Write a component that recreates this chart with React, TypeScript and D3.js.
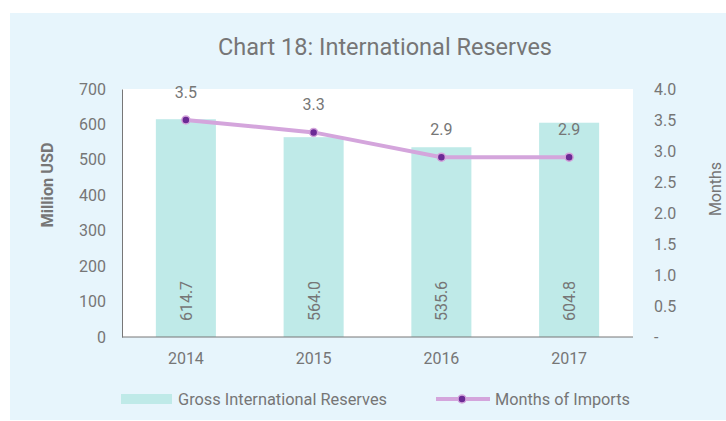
import React, { useRef, useEffect } from "react";
import * as d3 from "d3";

const years = ["2014", "2015", "2016", "2017"];
const reserves = [614.7, 564.0, 535.6, 604.8];
const months = [3.5, 3.3, 2.9, 2.9];
const leftTicks = [0, 100, 200, 300, 400, 500, 600, 700];
const rightTicks = [0, 0.5, 1, 1.5, 2, 2.5, 3, 3.5, 4];

const GREY = "#767676";
const BAR = "#bfeae8";
const LINE = "#d4a5dc";
const DOT = "#6b2a95";

export default function App() {
  const ref = useRef<SVGSVGElement | null>(null);

  useEffect(() => {
    const svg = d3.select(ref.current);
    svg.selectAll("*").remove();
    const font = "Roboto, 'Noto Sans', sans-serif";

    // background panel
    svg.append("rect").attr("x", 10).attr("y", 13).attr("width", 716).attr("height", 407).attr("fill", "#e7f5fc");

    const left = 122, right = 633, top = 89, bottom = 337;
    svg.append("rect").attr("x", left).attr("y", top).attr("width", right - left).attr("height", bottom - top).attr("fill", "#fff");

    const x = d3.scaleBand().domain(years).range([left, right]).paddingInner(0.53).paddingOuter(0.265);
    const y = d3.scaleLinear().domain([0, 700]).range([bottom, top]);
    const y2 = d3.scaleLinear().domain([0, 4]).range([bottom, top]);

    // title
    svg.append("text")
      .attr("x", 385).attr("y", 55)
      .attr("text-anchor", "middle")
      .attr("font-family", font).attr("font-size", 24)
      .attr("fill", GREY)
      .attr("textLength", 334).attr("lengthAdjust", "spacingAndGlyphs")
      .text("Chart 18: International Reserves");

    // bars
    svg.selectAll(".bar").data(reserves).enter().append("rect")
      .attr("x", (_, i) => x(years[i])!)
      .attr("y", (d) => y(d))
      .attr("width", x.bandwidth())
      .attr("height", (d) => bottom - y(d))
      .attr("fill", BAR);

    // bar value labels
    svg.selectAll(".barlab").data(reserves).enter().append("text")
      .attr("transform", (_, i) => `translate(${x(years[i])! + x.bandwidth() / 2 + 6},301) rotate(-90)`)
      .attr("text-anchor", "middle")
      .attr("font-family", font).attr("font-size", 16)
      .attr("fill", GREY)
      .text((d) => d.toFixed(1));

    // axes
    const axisLeft = d3.axisLeft(y).tickValues(leftTicks).tickSize(0).tickPadding(16);
    const gL = svg.append("g").attr("transform", `translate(${left},0)`).call(axisLeft);
    gL.select(".domain").attr("stroke", "#777");
    gL.selectAll("text").attr("font-family", font).attr("font-size", 16).attr("fill", GREY);

    const axisBottom = d3.axisBottom(x).tickSize(0).tickPadding(16);
    const gB = svg.append("g").attr("transform", `translate(0,${bottom})`).call(axisBottom);
    gB.select(".domain").attr("stroke", "#777").attr("d", `M${left},0H${right}`);
    gB.selectAll("text").attr("font-family", font).attr("font-size", 16).attr("fill", GREY);

    const axisRight = d3.axisRight(y2).tickValues(rightTicks).tickSize(0).tickPadding(21)
      .tickFormat((d) => (+d === 0 ? "-" : d3.format(".1f")(+d)));
    const gR = svg.append("g").attr("transform", `translate(${right},0)`).call(axisRight);
    gR.select(".domain").remove();
    gR.selectAll("text").attr("font-family", font).attr("font-size", 16).attr("fill", GREY);

    // axis titles
    svg.append("text")
      .attr("transform", "translate(53,185) rotate(-90)")
      .attr("text-anchor", "middle")
      .attr("font-family", font).attr("font-size", 16).attr("font-weight", "bold")
      .attr("fill", GREY)
      .attr("textLength", 85).attr("lengthAdjust", "spacingAndGlyphs")
      .text("Million USD");
    svg.append("text")
      .attr("transform", "translate(721,189) rotate(-90)")
      .attr("text-anchor", "middle")
      .attr("font-family", font).attr("font-size", 16)
      .attr("fill", GREY)
      .text("Months");

    // line
    const cx = (i: number) => x(years[i])! + x.bandwidth() / 2;
    const line = d3.line<number>().x((_, i) => cx(i)).y((d) => y2(d));
    svg.append("path").datum(months)
      .attr("d", line)
      .attr("fill", "none").attr("stroke", LINE).attr("stroke-width", 4);
    svg.selectAll(".dot").data(months).enter().append("circle")
      .attr("cx", (_, i) => cx(i)).attr("cy", (d) => y2(d))
      .attr("r", 4).attr("fill", DOT).attr("stroke", LINE).attr("stroke-width", 1.5);
    svg.selectAll(".linelab").data(months).enter().append("text")
      .attr("x", (_, i) => cx(i)).attr("y", (d) => y2(d) - 22)
      .attr("text-anchor", "middle")
      .attr("font-family", font).attr("font-size", 16)
      .attr("fill", GREY)
      .text((d) => d.toFixed(1));

    // legend
    svg.append("rect").attr("x", 121).attr("y", 394).attr("width", 51).attr("height", 10).attr("fill", BAR);
    svg.append("text").attr("x", 178).attr("y", 405)
      .attr("font-family", font).attr("font-size", 16).attr("fill", GREY)
      .attr("textLength", 209).attr("lengthAdjust", "spacingAndGlyphs")
      .text("Gross International Reserves");
    svg.append("line").attr("x1", 436).attr("x2", 490).attr("y1", 399).attr("y2", 399)
      .attr("stroke", LINE).attr("stroke-width", 4);
    svg.append("circle").attr("cx", 462).attr("cy", 399).attr("r", 4)
      .attr("fill", DOT).attr("stroke", LINE).attr("stroke-width", 1.5);
    svg.append("text").attr("x", 495).attr("y", 405)
      .attr("font-family", font).attr("font-size", 16).attr("fill", GREY)
      .attr("textLength", 135).attr("lengthAdjust", "spacingAndGlyphs")
      .text("Months of Imports");
  }, []);

  return (
    <svg
      ref={ref}
      width={726}
      height={421}
      style={{ position: "absolute", left: 0, top: 0, display: "block" }}
    />
  );
}
